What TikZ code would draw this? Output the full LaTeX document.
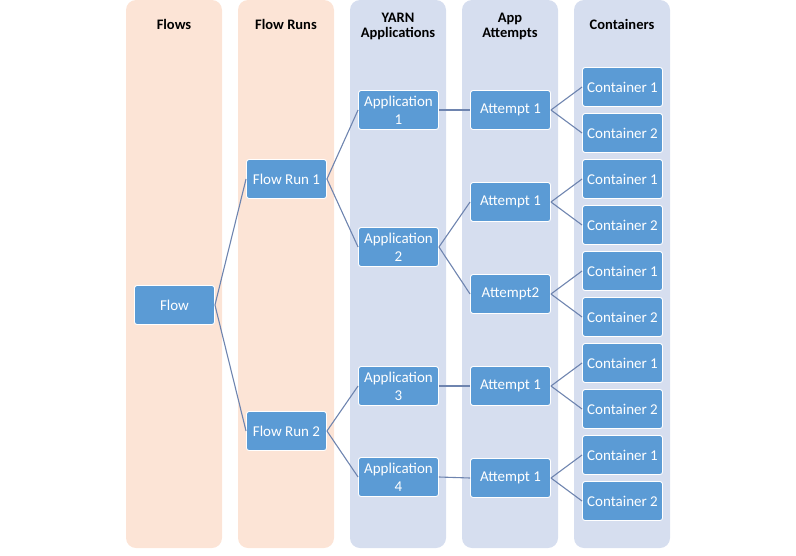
\documentclass[tikz,border=0pt]{standalone}
\usepackage{fontspec}
\setmainfont{Carlito}
\definecolor{peach}{RGB}{252,228,214}
\definecolor{lane}{RGB}{214,222,239}
\definecolor{nodeblue}{RGB}{91,155,213}
\definecolor{edgecol}{RGB}{110,132,175}
\begin{document}
\begin{tikzpicture}[x=1pt,y=-1pt,
  lanebox/.style={rounded corners=10pt, draw=none},
  header/.style={font=\fontsize{14.5}{15}\selectfont\bfseries, text=black, align=center},
  item/.style={rectangle, rounded corners=2.5pt, fill=nodeblue, draw=white, line width=0.9pt,
    minimum width=80pt, minimum height=39pt, inner sep=1pt, text=white, align=center,
    font=\fontsize{15}{18}\selectfont},
  link/.style={draw=edgecol, line width=1.1pt}]
\useasboundingbox (0,0) rectangle (796,555);
% lanes
\fill[lanebox, peach] (126,0) rectangle (222,548);
\fill[lanebox, peach] (238,0) rectangle (334,548);
\fill[lanebox, lane] (350,0) rectangle (446,548);
\fill[lanebox, lane] (462,0) rectangle (558,548);
\fill[lanebox, lane] (574,0) rectangle (670,548);
% headers
\node[header] (h1) at (174,24) {Flows};
\node[header] (h2) at (286,24) {Flow Runs};
\node[header] (h3) at (398,26.5) {YARN\\Applications};
\node[header] (h4) at (510,26.5) {App\\Attempts};
\node[header] (h5) at (622,24) {Containers};
% nodes
\node[item] (flow) at (174.5,305) {Flow};
\node[item] (fr1) at (286.5,179) {Flow Run 1};
\node[item] (fr2) at (286.5,431) {Flow Run 2};
\node[item] (a1) at (398.5,110) {Application\\1};
\node[item] (a2) at (398.5,247) {Application\\2};
\node[item] (a3) at (398.5,386) {Application\\3};
\node[item] (a4) at (398.5,477) {Application\\4};
\node[item] (t1) at (510.5,110) {Attempt 1};
\node[item] (t2) at (510.5,202) {Attempt 1};
\node[item] (t3) at (510.5,294) {Attempt2};
\node[item] (t4) at (510.5,386) {Attempt 1};
\node[item] (t5) at (510.5,478) {Attempt 1};
\node[item] (c1) at (622.5,87) {Container 1};
\node[item] (c2) at (622.5,133) {Container 2};
\node[item] (c3) at (622.5,179) {Container 1};
\node[item] (c4) at (622.5,225) {Container 2};
\node[item] (c5) at (622.5,271) {Container 1};
\node[item] (c6) at (622.5,317) {Container 2};
\node[item] (c7) at (622.5,363) {Container 1};
\node[item] (c8) at (622.5,409) {Container 2};
\node[item] (c9) at (622.5,455) {Container 1};
\node[item] (c10) at (622.5,501) {Container 2};
% connectors
\draw[link] (flow.east) -- (fr1.west);
\draw[link] (flow.east) -- (fr2.west);
\draw[link] (fr1.east) -- (a1.west);
\draw[link] (fr1.east) -- (a2.west);
\draw[link] (fr2.east) -- (a3.west);
\draw[link] (fr2.east) -- (a4.west);
\draw[link] (a1.east) -- (t1.west);
\draw[link] (a2.east) -- (t2.west);
\draw[link] (a2.east) -- (t3.west);
\draw[link] (a3.east) -- (t4.west);
\draw[link] (a4.east) -- (t5.west);
\draw[link] (t1.east) -- (c1.west);
\draw[link] (t1.east) -- (c2.west);
\draw[link] (t2.east) -- (c3.west);
\draw[link] (t2.east) -- (c4.west);
\draw[link] (t3.east) -- (c5.west);
\draw[link] (t3.east) -- (c6.west);
\draw[link] (t4.east) -- (c7.west);
\draw[link] (t4.east) -- (c8.west);
\draw[link] (t5.east) -- (c9.west);
\draw[link] (t5.east) -- (c10.west);
\end{tikzpicture}
\end{document}
